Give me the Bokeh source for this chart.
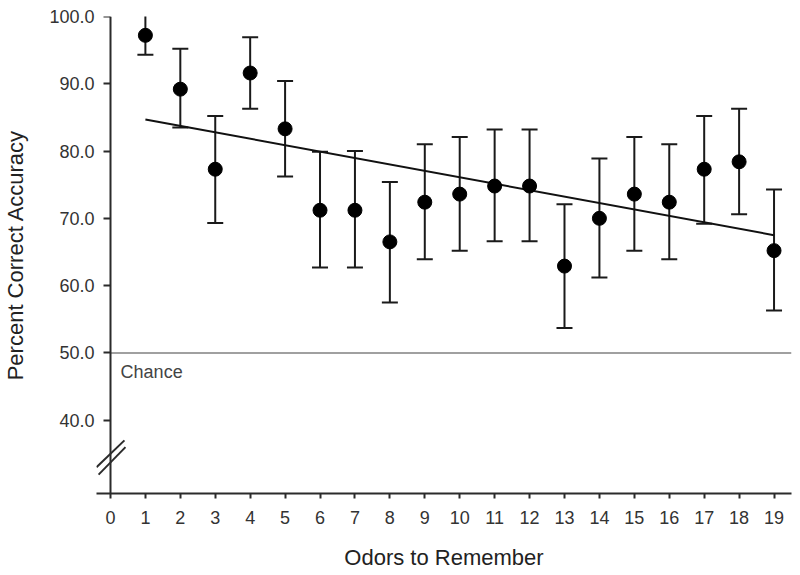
from bokeh.plotting import figure
from bokeh.models import Range1d, FixedTicker, Label, Arrow, PrintfTickFormatter, LinearAxis
from bokeh.embed import file_html
from bokeh.resources import INLINE

# ---- data ----
odors = [1, 2, 3, 4, 5, 6, 7, 8, 9, 10, 11, 12, 13, 14, 15, 16, 17, 18, 19]
accuracy = [97.2, 89.2, 77.3, 91.6, 83.3, 71.2, 71.2, 66.5, 72.4, 73.6,
            74.8, 74.8, 62.9, 70.0, 73.6, 72.4, 77.3, 78.4, 65.2]
upper = [100.4, 95.2, 85.2, 96.9, 90.4, 79.9, 80.0, 75.4, 81.0, 82.1,
         83.2, 83.2, 72.1, 78.9, 82.1, 81.0, 85.2, 86.3, 74.3]
lower = [94.3, 83.5, 69.3, 86.3, 76.2, 62.7, 62.7, 57.5, 63.9, 65.2,
         66.6, 66.6, 53.7, 61.2, 65.2, 63.9, 69.2, 70.6, 56.3]
trend_x = [1, 19]
trend_y = [84.7, 67.5]
chance_level = 50.0
x_ticks = list(range(0, 20))
y_ticks = [40, 50, 60, 70, 80, 90, 100]

FONT = "Liberation Sans"
AX = "#2b2b2b"

X0, X1 = -0.4, 19.5
p = figure(width=792, height=575, output_backend="svg", toolbar_location=None,
           x_range=Range1d(X0, X1), y_range=Range1d(29.1, 100),
           min_border_left=95, min_border_top=16, min_border_right=1, min_border_bottom=82)
p.outline_line_color = None
p.xgrid.visible = False
p.ygrid.visible = False

# chance line (from the y axis to the right end)
p.segment(x0=[x_ticks[0]], y0=[chance_level], x1=[X1], y1=[chance_level],
          line_color="#a0a0a0", line_width=2)

# error bars
p.segment(x0=odors, y0=lower, x1=odors, y1=upper, line_color="#1a1a1a", line_width=2)
p.scatter(odors, upper, marker="dash", size=16, line_color="#1a1a1a", line_width=2)
p.scatter(odors, lower, marker="dash", size=16, line_color="#1a1a1a", line_width=2)

# trend line
p.line(trend_x, trend_y, line_color="#111111", line_width=2)

# means
p.scatter(odors, accuracy, marker="circle", size=14, fill_color="black", line_color="black")

# x axis
xa = p.xaxis[0]
xa.axis_line_color = AX
xa.axis_line_width = 2
xa.major_tick_line_color = AX
xa.major_tick_line_width = 2
xa.minor_tick_line_color = None
xa.major_tick_in = 0
xa.major_tick_out = 5
xa.major_label_text_font = FONT
xa.major_label_text_font_size = "18px"
xa.major_label_text_color = "#333333"
xa.major_label_standoff = 12
xa.ticker = FixedTicker(ticks=x_ticks)
xa.axis_label = "Odors to Remember"
xa.axis_label_text_font = FONT
xa.axis_label_text_font_size = "22px"
xa.axis_label_text_font_style = "normal"
xa.axis_label_text_color = "#222222"
xa.axis_label_standoff = 18

# y axis line + ticks, placed at x = 0 (labels come from the axis below)
ya = p.yaxis[0]
ya.fixed_location = 0
ya.ticker = FixedTicker(ticks=y_ticks)
ya.axis_line_color = AX
ya.axis_line_width = 2
ya.major_tick_line_color = AX
ya.major_tick_line_width = 2
ya.minor_tick_line_color = None
ya.major_tick_in = 0
ya.major_tick_out = 7
ya.major_label_overrides = {t: "" for t in y_ticks}
ya.axis_label = None

# y tick labels + title
yl = LinearAxis(ticker=FixedTicker(ticks=y_ticks), formatter=PrintfTickFormatter(format="%.1f"),
                axis_line_color=None, major_tick_line_color=None, minor_tick_line_color=None,
                major_tick_in=0, major_tick_out=0, major_label_standoff=2,
                major_label_text_font=FONT, major_label_text_font_size="18px",
                major_label_text_color="#333333",
                axis_label="Percent Correct Accuracy", axis_label_text_font=FONT,
                axis_label_text_font_size="22px", axis_label_text_font_style="normal",
                axis_label_text_color="#222222", axis_label_standoff=18)
p.add_layout(yl, "left")

# axis break marks
for (xa0, ya0, xb, yb) in [(-0.40, 33.0, 0.40, 37.0), (-0.34, 31.9, 0.43, 36.0)]:
    p.add_layout(Arrow(x_start=xa0, y_start=ya0, x_end=xb, y_end=yb, end=None,
                       line_color=AX, line_width=2))

p.add_layout(Label(x=0.29, y=47.2, text="Chance", text_font=FONT,
                   text_font_size="18px", text_color="#444444", text_baseline="middle"))

open("out.html", "w").write(file_html(p, INLINE))
